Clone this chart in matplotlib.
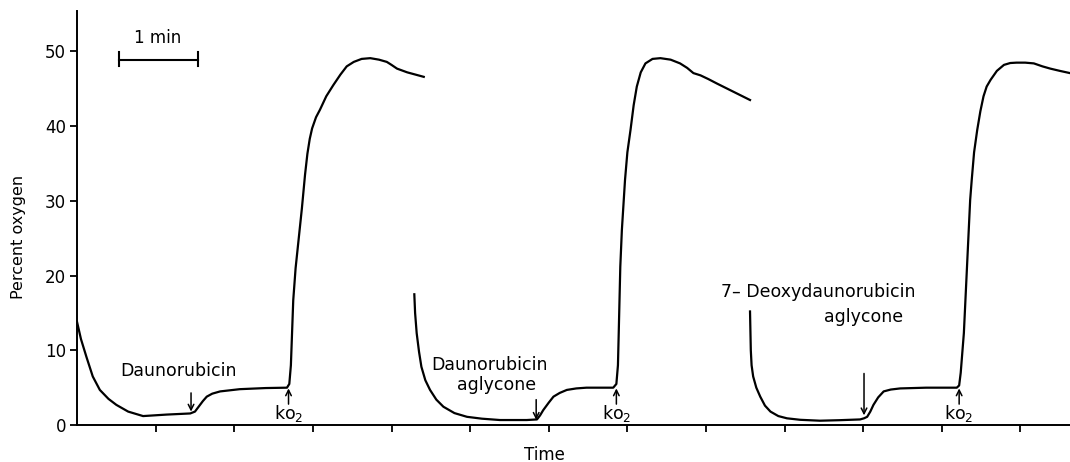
import matplotlib.pyplot as plt

# oxygen electrode traces, time in minutes, value in percent oxygen
t_dauno = [0.0, 0.05, 0.12, 0.2, 0.29, 0.4, 0.5, 0.65, 0.84, 1.14, 1.44, 1.50, 1.55, 1.60,
           1.65, 1.72, 1.82, 2.07, 2.4, 2.67, 2.70, 2.72, 2.75, 2.78, 2.82, 2.86, 2.90, 2.93,
           2.96, 2.99, 3.04, 3.09, 3.17, 3.26, 3.35, 3.43, 3.52, 3.62, 3.73, 3.84, 3.94, 4.0,
           4.07, 4.2, 4.41]
o2_dauno = [13.8, 11.5, 9.1, 6.5, 4.7, 3.5, 2.7, 1.8, 1.2, 1.4, 1.55, 1.8, 2.5, 3.2,
            3.8, 4.2, 4.5, 4.8, 4.95, 5.0, 5.5, 8.0, 16.7, 21.0, 25.0, 29.0, 33.5, 36.3,
            38.3, 39.7, 41.2, 42.2, 44.0, 45.5, 46.9, 48.0, 48.6, 49.0, 49.1, 48.9, 48.6, 48.2,
            47.7, 47.2, 46.6]

t_agly = [4.29, 4.30, 4.32, 4.35, 4.38, 4.43, 4.49, 4.57, 4.66, 4.8, 4.96, 5.15, 5.38, 5.72,
          5.85, 5.89, 5.93, 6.0, 6.06, 6.14, 6.23, 6.35, 6.48, 6.82, 6.86, 6.88, 6.89, 6.91,
          6.93, 6.97, 7.0, 7.04, 7.08, 7.12, 7.17, 7.23, 7.32, 7.42, 7.55, 7.67, 7.76, 7.84,
          7.93, 8.03, 8.14, 8.35, 8.56]
o2_agly = [17.5, 15.0, 12.3, 9.8, 7.8, 6.0, 4.7, 3.4, 2.45, 1.6, 1.1, 0.85, 0.67, 0.67,
           0.75, 1.3, 2.0, 3.0, 3.8, 4.3, 4.7, 4.9, 5.0, 5.0, 5.5, 8.0, 12.3, 21.2,
           26.1, 32.8, 36.5, 39.5, 42.8, 45.3, 47.2, 48.4, 49.0, 49.1, 48.9, 48.4, 47.8, 47.1,
           46.8, 46.3, 45.7, 44.6, 43.5]

t_deoxy = [8.56, 8.57, 8.58, 8.60, 8.64, 8.69, 8.75, 8.82, 8.92, 9.03, 9.2, 9.45, 9.7, 9.96,
           10.01, 10.05, 10.09, 10.13, 10.19, 10.26, 10.35, 10.47, 10.8, 11.19, 11.22, 11.24,
           11.28, 11.32, 11.36, 11.38, 11.41, 11.45, 11.49, 11.53, 11.57, 11.62, 11.70, 11.79,
           11.87, 11.95, 12.06, 12.17, 12.28, 12.38, 12.50, 12.63]
o2_deoxy = [15.2, 10.0, 8.0, 6.5, 5.0, 3.8, 2.6, 1.8, 1.2, 0.9, 0.7, 0.58, 0.65, 0.75,
            0.9, 1.1, 1.8, 2.7, 3.7, 4.5, 4.75, 4.9, 5.0, 5.0, 5.3, 7.0,
            12.3, 21.2, 30.1, 32.8, 36.5, 39.5, 42.0, 44.0, 45.3, 46.2, 47.4, 48.2,
            48.45, 48.5, 48.5, 48.4, 48.0, 47.7, 47.4, 47.1]

minute_ticks = [1, 2, 3, 4, 5, 6, 7, 8, 9, 10, 11, 12]
y_ticks = [0, 10, 20, 30, 40, 50]

fig = plt.figure(figsize=(10.7, 4.62), dpi=100)
ax = fig.add_axes([0.072, 0.080, 0.928, 0.896])

for t, v in [(t_dauno, o2_dauno), (t_agly, o2_agly), (t_deoxy, o2_deoxy)]:
    ax.plot(t, v, color='black', lw=1.6, solid_joinstyle='round')

ax.set_xlim(0, 12.63)
ax.set_ylim(0, 55.4)
ax.spines['top'].set_visible(False)
ax.spines['right'].set_visible(False)
ax.spines['left'].set_linewidth(1.4)
ax.spines['bottom'].set_linewidth(1.4)
ax.set_xticks(minute_ticks)
ax.set_xticklabels([])
ax.set_yticks(y_ticks)
ax.tick_params(axis='both', direction='out', length=5, width=1.3, labelsize=12)
ax.tick_params(axis='y', pad=3)

ax.set_ylabel('Percent oxygen', fontsize=11.5)
ax.yaxis.set_label_coords(-0.051, 0.454)
ax.set_xlabel('Time', fontsize=12)
ax.xaxis.set_label_coords(0.471, -0.05)

# 1 min scale bar
ax.plot([0.53, 1.54], [48.9, 48.9], color='black', lw=1.5)
ax.plot([0.53, 0.53], [48.0, 49.9], color='black', lw=1.5)
ax.plot([1.54, 1.54], [48.0, 49.9], color='black', lw=1.5)
ax.text(1.03, 50.6, '1 min', ha='center', va='bottom', fontsize=12)

arrow = dict(arrowstyle='->', color='black', lw=1.1, shrinkA=0, shrinkB=0)
fs = 12.5

# drug additions
ax.text(1.29, 7.2, 'Daunorubicin', ha='center', va='center', fontsize=fs)
ax.annotate('', xy=(1.45, 1.8), xytext=(1.45, 4.3), arrowprops=arrow)

ax.text(5.25, 8.0, 'Daunorubicin', ha='center', va='center', fontsize=fs)
ax.text(5.34, 5.3, 'aglycone', ha='center', va='center', fontsize=fs)
ax.annotate('', xy=(5.84, 0.7), xytext=(5.84, 3.4), arrowprops=arrow)

ax.text(9.43, 17.8, '7– Deoxydaunorubicin', ha='center', va='center', fontsize=fs)
ax.text(10.01, 14.4, 'aglycone', ha='center', va='center', fontsize=fs)
ax.annotate('', xy=(10.01, 1.3), xytext=(10.01, 6.9), arrowprops=arrow)

# oxygen additions
for x0 in [2.69, 6.86, 11.22]:
    ax.annotate('', xy=(x0, 4.9), xytext=(x0, 2.8), arrowprops=arrow)
    ax.text(x0, 1.6, 'ko$_2$', ha='center', va='center', fontsize=fs)

plt.savefig('out.png', dpi=100)
